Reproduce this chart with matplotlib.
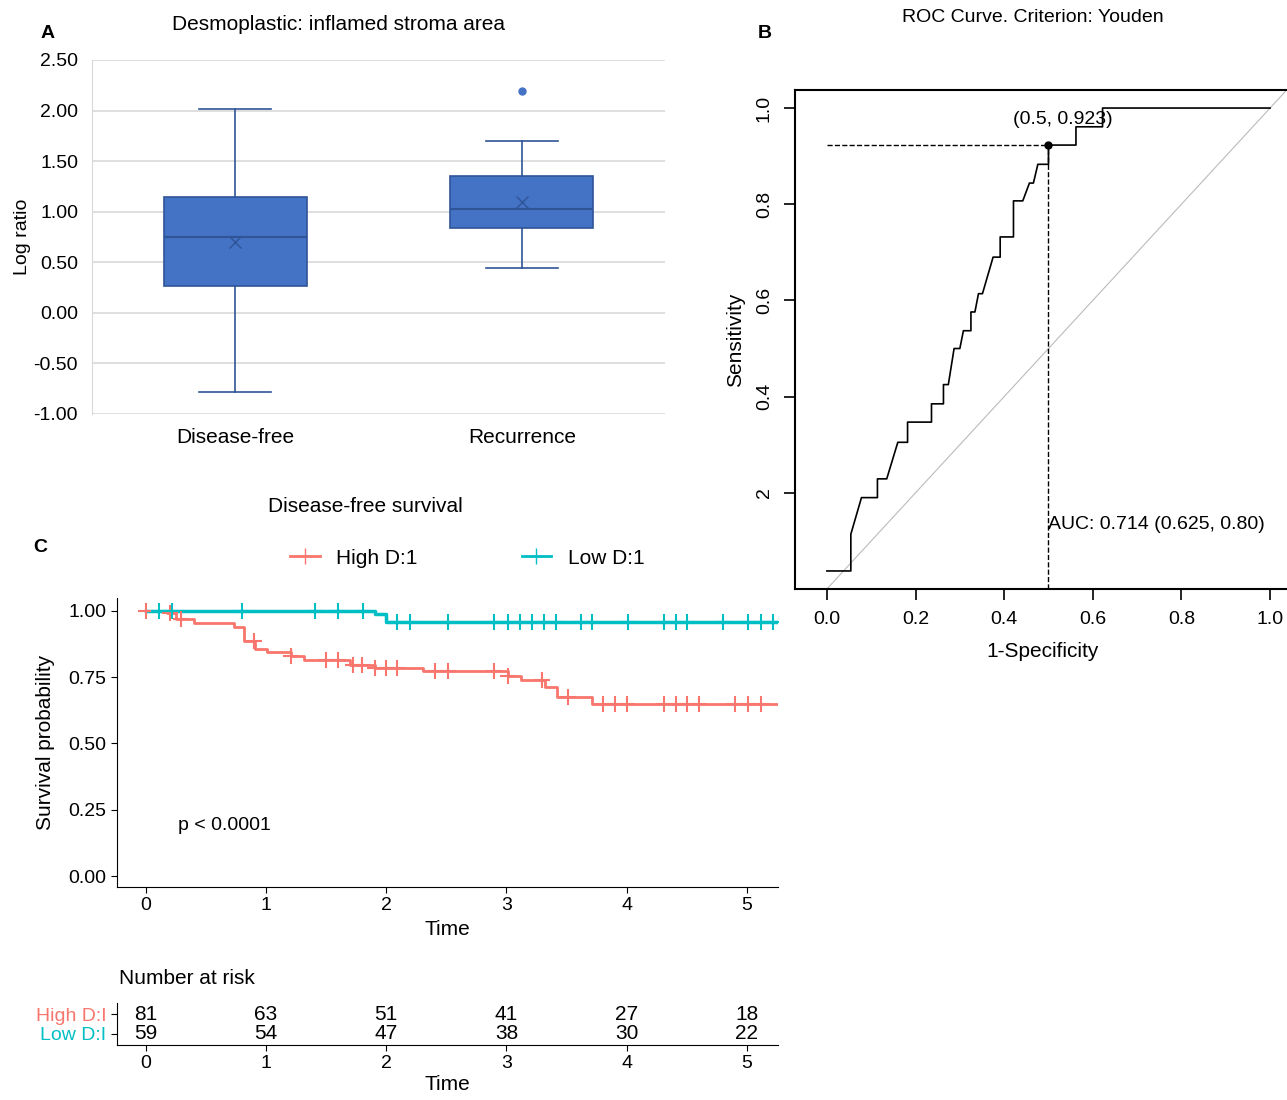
import matplotlib
matplotlib.use("Agg")
import matplotlib.pyplot as plt

plt.rcParams["font.family"] = ["Liberation Sans", "DejaVu Sans"]

W, H = 1287, 1100
RED = "#F8766D"
TEAL = "#00BFC4"
BLUE = "#4472C4"
EDGE = "#2F5597"

# Panel A: box plot summary stats
groups = ["Disease-free", "Recurrence"]
q1 = [0.27, 0.84]
med = [0.75, 1.03]
q3 = [1.15, 1.35]
wlo = [-0.78, 0.44]
whi = [2.02, 1.70]
means = [0.70, 1.10]
outliers = [[], [2.19]]

# Panel B: ROC curve vertices
roc_fpr = [0, 0.054, 0.054, 0.078, 0.114, 0.114, 0.135, 0.160, 0.182, 0.182, 0.236, 0.236,
           0.263, 0.263, 0.274, 0.287, 0.300, 0.308, 0.325, 0.325, 0.334, 0.342, 0.351,
           0.375, 0.391, 0.391, 0.421, 0.421, 0.442, 0.457, 0.466, 0.476, 0.5, 0.5,
           0.562, 0.562, 0.622, 0.622, 1.0]
roc_tpr = [0.0375, 0.0375, 0.114, 0.190, 0.190, 0.229, 0.229, 0.305, 0.305, 0.347, 0.347, 0.385,
           0.385, 0.425, 0.425, 0.500, 0.500, 0.537, 0.537, 0.576, 0.576, 0.614, 0.614,
           0.690, 0.690, 0.732, 0.732, 0.807, 0.807, 0.844, 0.844, 0.883, 0.883, 0.923,
           0.923, 0.961, 0.961, 1.0, 1.0]

# Panel C: Kaplan-Meier steps (time, survival after step)
high_t = [0, 0.18, 0.25, 0.40, 0.73, 0.82, 0.91, 1.01, 1.21, 1.32, 1.70, 1.91, 2.31, 3.01, 3.12, 3.32, 3.42, 3.71, 5.3]
high_s = [1.0, 0.991, 0.968, 0.955, 0.94, 0.886, 0.857, 0.844, 0.829, 0.814, 0.797, 0.785, 0.773, 0.753, 0.738, 0.712, 0.674, 0.649, 0.649]
low_t = [0, 1.91, 2.0, 5.3]
low_s = [1.0, 0.987, 0.96, 0.96]
high_cens = [0.0, 0.20, 0.29, 0.90, 1.21, 1.50, 1.60, 1.72, 1.80, 1.91, 2.00, 2.09, 2.41, 2.51,
             2.90, 3.01, 3.30, 3.51, 3.80, 3.90, 4.00, 4.31, 4.41, 4.50, 4.60, 4.90, 5.01, 5.12]
low_cens = [0.11, 0.22, 0.80, 1.41, 1.60, 1.81, 2.09, 2.20, 2.51, 2.90, 3.01, 3.11, 3.21, 3.31,
            3.41, 3.62, 3.71, 4.01, 4.31, 4.41, 4.50, 4.80, 5.01, 5.12, 5.22]
risk_times = [0, 1, 2, 3, 4, 5]
risk_high = [81, 63, 51, 41, 27, 18]
risk_low = [59, 54, 47, 38, 30, 22]


def surv_at(ts, ss, t):
    v = ss[0]
    for ti, si in zip(ts, ss):
        if ti <= t:
            v = si
    return v


def ax_px(fig, l, t, r, b):
    return fig.add_axes([l / W, 1 - b / H, (r - l) / W, (b - t) / H])


fig = plt.figure(figsize=(W / 100, H / 100), dpi=100)
fig.patch.set_facecolor("white")
FS = 14

# ---- Panel A ----
ax = ax_px(fig, 92, 60, 665, 414)
stats = []
for i in range(2):
    stats.append(dict(q1=q1[i], med=med[i], q3=q3[i], whislo=wlo[i], whishi=whi[i],
                      mean=means[i], fliers=outliers[i]))
ax.bxp(stats, positions=[0, 1], widths=0.5, patch_artist=True, showmeans=True,
       boxprops=dict(facecolor=BLUE, edgecolor=EDGE, linewidth=1.2),
       medianprops=dict(color=EDGE, linewidth=1.5),
       whiskerprops=dict(color=EDGE, linewidth=1.2),
       capprops=dict(color=EDGE, linewidth=1.2),
       meanprops=dict(marker="x", markeredgecolor=EDGE, markersize=9),
       flierprops=dict(marker="o", markerfacecolor=BLUE, markeredgecolor=BLUE, markersize=5),
       zorder=3)
ax.set_xlim(-0.5, 1.5)
ax.set_ylim(-1.0, 2.5)
ax.set_yticks([-1, -0.5, 0, 0.5, 1, 1.5, 2, 2.5])
ax.set_yticklabels([f"{v:.2f}" for v in [-1, -0.5, 0, 0.5, 1, 1.5, 2, 2.5]], fontsize=FS)
ax.set_xticks([0, 1])
ax.set_xticklabels(groups, fontsize=FS + 1)
ax.yaxis.grid(True, color="#D9D9D9", linewidth=1.2, zorder=0)
ax.set_axisbelow(True)
for s in ["top", "right", "bottom"]:
    ax.spines[s].set_visible(False)
ax.spines["left"].set_color("#D9D9D9")
ax.tick_params(length=0, pad=10)
ax.set_ylabel("Log ratio", fontsize=FS, labelpad=2)
fig.text(339 / W, 1 - 24 / H, "Desmoplastic: inflamed stroma area", fontsize=FS + 1,
         ha="center", va="center")
fig.text(48 / W, 1 - 33 / H, "A", fontsize=FS, fontweight="bold", ha="center", va="center")

# ---- Panel B ----
ax = ax_px(fig, 795, 90, 1290, 589)
ax.plot([0, 1.05], [0, 1.05], color="#BBBBBB", linewidth=0.8)
ax.plot(roc_fpr, roc_tpr, color="black", linewidth=1.2)
ax.plot([0, 0.5], [0.923, 0.923], color="black", linestyle="--", linewidth=1)
ax.plot([0.5, 0.5], [0, 0.923], color="black", linestyle="--", linewidth=1)
ax.plot([0.5], [0.923], "o", color="black", markersize=5)
ax.text(0.533, 0.977, "(0.5, 0.923)", fontsize=FS, ha="center", va="center")
ax.text(0.5, 0.135, "AUC: 0.714 (0.625, 0.80)", fontsize=FS, ha="left", va="center")
ax.set_xlim(-0.072, 1.045)
ax.set_ylim(0, 1.0375)
ax.set_xticks([0, 0.2, 0.4, 0.6, 0.8, 1.0])
ax.set_xticklabels(["0.0", "0.2", "0.4", "0.6", "0.8", "1.0"], fontsize=FS)
ax.set_yticks([0.2, 0.4, 0.6, 0.8, 1.0])
ax.set_yticklabels(["2", "0.4", "0.6", "0.8", "1.0"], fontsize=FS, rotation=90, va="center")
ax.tick_params(length=8, width=1.2, pad=8)
for s in ax.spines.values():
    s.set_linewidth(1.5)
ax.set_xlabel("1-Specificity", fontsize=FS + 1, labelpad=10)
ax.set_ylabel("Sensitivity", fontsize=FS + 1, labelpad=8)
fig.text(1033 / W, 1 - 17 / H, "ROC Curve. Criterion: Youden", fontsize=FS, ha="center", va="center")
fig.text(765 / W, 1 - 33 / H, "B", fontsize=FS, fontweight="bold", ha="center", va="center")

# ---- Panel C ----
ax = ax_px(fig, 117, 598, 778, 887)
ax.step(high_t, high_s, where="post", color=RED, linewidth=2)
ax.step(low_t, low_s, where="post", color=TEAL, linewidth=2.5)
ax.plot(high_cens, [surv_at(high_t, high_s, t) for t in high_cens], "+", color=RED,
        markersize=11, markeredgewidth=1.5)
ax.plot(low_cens, [surv_at(low_t, low_s, t) for t in low_cens], "+", color=TEAL,
        markersize=11, markeredgewidth=1.5)
ax.text(0.27, 0.19, "p < 0.0001", fontsize=FS, ha="left", va="center")
ax.set_xlim(-0.24, 5.26)
ax.set_ylim(-0.0415, 1.049)
ax.set_xticks(risk_times)
ax.set_yticks([0, 0.25, 0.5, 0.75, 1.0])
ax.set_yticklabels(["0.00", "0.25", "0.50", "0.75", "1.00"])
ax.tick_params(labelsize=FS, length=4)
for s in ["top", "right"]:
    ax.spines[s].set_visible(False)
ax.set_xlabel("Time", fontsize=FS + 1)
ax.set_ylabel("Survival probability", fontsize=FS + 1, labelpad=10)
fig.text(365 / W, 1 - 507 / H, "Disease-free survival", fontsize=FS + 1, ha="center", va="center")
fig.text(40 / W, 1 - 548 / H, "C", fontsize=FS, fontweight="bold", ha="center", va="center")
ax.legend(handles=[plt.Line2D([], [], color=RED, marker="+", markersize=11, linewidth=2, label="High D:1"),
                   plt.Line2D([], [], color=TEAL, marker="+", markersize=11, linewidth=2, label="Low D:1")],
          loc="lower center", bbox_to_anchor=(0.53, 1.04), ncol=2, frameon=False,
          fontsize=FS + 1, columnspacing=5, handlelength=1.4)

# risk table
ax = ax_px(fig, 117, 1003, 778, 1045)
for t, h, l in zip(risk_times, risk_high, risk_low):
    ax.text(t, 1, str(h), fontsize=FS + 1, ha="center", va="center")
    ax.text(t, 0, str(l), fontsize=FS + 1, ha="center", va="center")
ax.set_xlim(-0.24, 5.26)
ax.set_ylim(-0.6, 1.6)
ax.set_xticks(risk_times)
ax.set_yticks([1, 0])
ax.set_yticklabels(["High D:I", "Low D:I"], fontsize=FS + 1)
for lab, c in zip(ax.get_yticklabels(), [RED, TEAL]):
    lab.set_color(c)
ax.tick_params(labelsize=FS, length=4)
for s in ["top", "right"]:
    ax.spines[s].set_visible(False)
ax.set_xlabel("Time", fontsize=FS + 1, labelpad=2)
fig.text(119 / W, 1 - 978 / H, "Number at risk", fontsize=FS + 1, ha="left", va="center")

fig.savefig("out.png", dpi=100, facecolor="white")
